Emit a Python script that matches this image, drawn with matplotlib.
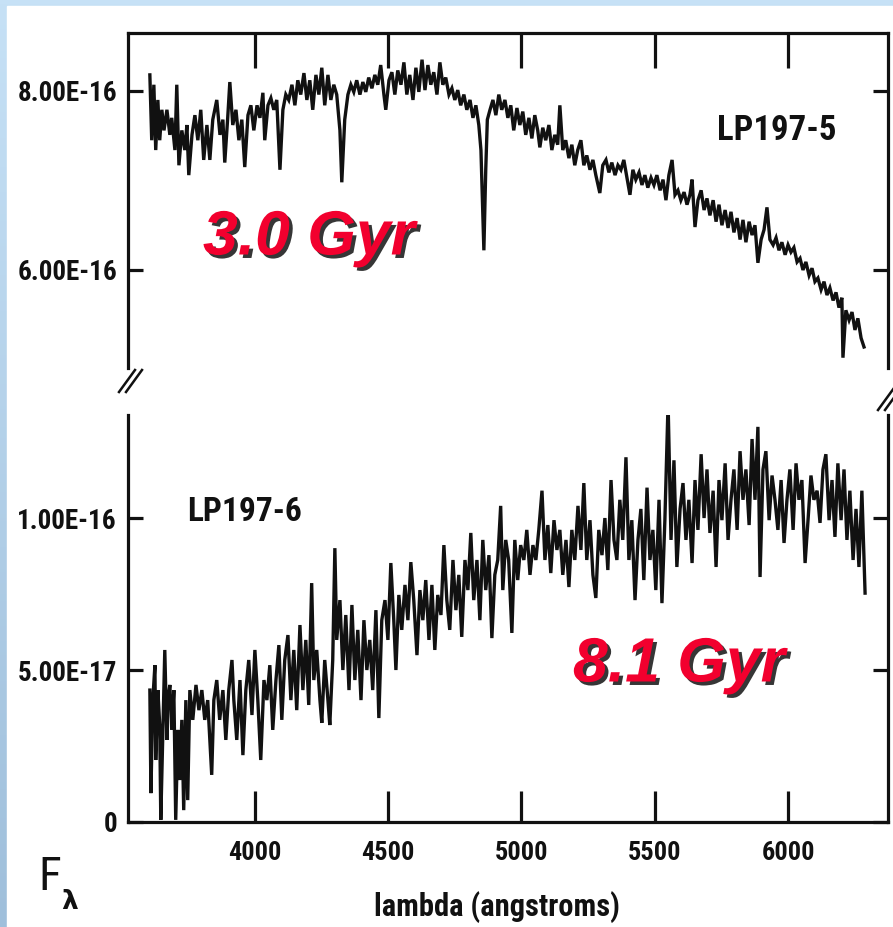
import numpy as np
import matplotlib
matplotlib.use("Agg")
import matplotlib.pyplot as plt
from matplotlib import font_manager as fm
from matplotlib.patches import Rectangle
from matplotlib.lines import Line2D
from matplotlib.colors import LinearSegmentedColormap
import matplotlib.patheffects as pe

# ---------------- data ----------------
# LP197-5 (upper panel), flux in units of 1e-16
wave_top = [3606, 3613, 3621, 3628, 3636, 3643, 3651, 3659, 3670, 3681, 3688, 3700, 3707, 3715,
            3726, 3737, 3745, 3752, 3764, 3775, 3786, 3797, 3808, 3820, 3831, 3842, 3857, 3869,
            3880, 3887, 3898, 3906, 3917, 3929, 3940, 3951, 3962, 3974, 3985, 3996, 4008, 4019,
            4030, 4037, 4049, 4060, 4071, 4082, 4094, 4105, 4116, 4127, 4139, 4150, 4161, 4172,
            4184, 4195, 4206, 4217, 4229, 4240, 4251, 4262, 4274, 4285, 4296, 4307, 4319, 4326,
            4337, 4349, 4360, 4371, 4382, 4394, 4405, 4416, 4427, 4439, 4450, 4461, 4472, 4484,
            4491, 4503, 4514, 4525, 4536, 4548, 4559, 4570, 4581, 4593, 4604, 4615, 4627, 4638,
            4649, 4660, 4671, 4683, 4694, 4705, 4716, 4728, 4739, 4750, 4761, 4772, 4784, 4795,
            4807, 4818, 4829, 4840, 4848, 4859, 4866, 4872, 4882, 4893, 4904, 4915, 4926, 4938,
            4949, 4960, 4971, 4983, 4994, 5005, 5016, 5028, 5039, 5050, 5061, 5069, 5080, 5091,
            5103, 5114, 5125, 5136, 5144, 5155, 5166, 5178, 5189, 5200, 5211, 5223, 5234, 5245,
            5257, 5268, 5279, 5294, 5305, 5317, 5328, 5339, 5351, 5362, 5373, 5384, 5396, 5407,
            5418, 5429, 5441, 5452, 5463, 5474, 5486, 5497, 5508, 5520, 5531, 5542, 5553, 5565,
            5576, 5587, 5598, 5610, 5621, 5632, 5640, 5651, 5662, 5674, 5685, 5696, 5707, 5719,
            5730, 5741, 5752, 5764, 5775, 5786, 5797, 5809, 5820, 5831, 5842, 5854, 5865, 5876,
            5887, 5899, 5910, 5921, 5932, 5944, 5955, 5966, 5977, 5989, 6000, 6011, 6022, 6034,
            6045, 6056, 6067, 6079, 6090, 6101, 6112, 6124, 6135, 6146, 6157, 6169, 6180, 6191,
            6202, 6206, 6217, 6229, 6240, 6251, 6262, 6274, 6285]
flux_top = [8.18, 7.45, 8.07, 7.34, 7.90, 7.45, 7.79, 7.56, 7.79, 7.51, 7.70, 7.34, 8.07, 7.17,
            7.56, 7.34, 7.62, 7.06, 7.51, 7.73, 7.45, 7.79, 7.23, 7.62, 7.23, 7.68, 7.90, 7.51,
            7.68, 7.20, 7.70, 8.10, 7.62, 7.79, 7.45, 7.68, 7.15, 7.73, 7.84, 7.56, 7.84, 7.70,
            7.98, 7.45, 7.84, 7.92, 7.79, 7.90, 7.12, 7.79, 7.96, 7.90, 8.07, 7.84, 8.12, 7.96,
            8.20, 7.90, 8.12, 7.79, 8.18, 7.96, 8.26, 7.84, 8.18, 7.90, 8.07, 7.96, 7.56, 6.98,
            7.68, 7.96, 8.07, 7.99, 8.12, 7.96, 8.10, 7.99, 8.15, 8.03, 8.18, 8.07, 8.29, 7.96,
            7.79, 8.12, 8.21, 7.96, 8.23, 8.07, 8.32, 7.96, 8.18, 7.90, 8.26, 7.99, 8.35, 8.01,
            8.29, 8.07, 8.21, 7.96, 8.32, 8.07, 8.15, 7.96, 8.03, 7.90, 8.01, 7.84, 7.96, 7.79,
            7.90, 7.70, 7.84, 7.62, 7.34, 6.22, 7.12, 7.68, 7.79, 7.90, 7.73, 7.96, 7.79, 7.90,
            7.70, 7.84, 7.56, 7.81, 7.62, 7.77, 7.51, 7.70, 7.47, 7.73, 7.56, 7.37, 7.59, 7.45,
            7.62, 7.34, 7.51, 7.40, 7.84, 7.34, 7.45, 7.25, 7.40, 7.17, 7.34, 7.45, 7.17, 7.28,
            7.12, 7.23, 7.06, 6.86, 7.17, 7.23, 7.09, 7.20, 7.06, 7.17, 7.12, 7.23, 7.03, 6.84,
            7.12, 7.01, 7.09, 6.95, 7.06, 6.92, 7.03, 6.95, 7.06, 6.89, 7.01, 6.78, 7.06, 7.23,
            6.84, 6.89, 6.78, 6.87, 6.73, 6.84, 7.01, 6.48, 6.78, 6.89, 6.67, 6.80, 6.61, 6.78,
            6.54, 6.73, 6.50, 6.67, 6.47, 6.65, 6.42, 6.58, 6.34, 6.56, 6.31, 6.54, 6.39, 6.50,
            6.08, 6.34, 6.45, 6.70, 6.34, 6.28, 6.36, 6.22, 6.31, 6.17, 6.28, 6.20, 6.25, 6.09,
            6.13, 6.00, 6.09, 5.94, 6.02, 5.87, 5.91, 5.78, 5.87, 5.72, 5.80, 5.66, 5.75, 5.58,
            5.69, 5.02, 5.55, 5.44, 5.53, 5.33, 5.46, 5.24, 5.14]

# LP197-6 (lower panel), flux in units of 1e-17
wave_bot = [3606, 3610, 3617, 3625, 3628, 3636, 3643, 3647, 3655, 3662, 3670, 3673, 3681, 3688,
            3696, 3703, 3711, 3718, 3726, 3733, 3741, 3748, 3756, 3767, 3779, 3790, 3801, 3812,
            3823, 3831, 3838, 3846, 3857, 3868, 3880, 3891, 3902, 3914, 3921, 3932, 3944, 3955,
            3966, 3977, 3989, 4000, 4011, 4022, 4034, 4045, 4056, 4067, 4079, 4090, 4101, 4112,
            4124, 4135, 4146, 4157, 4169, 4180, 4191, 4202, 4213, 4221, 4232, 4244, 4251, 4262,
            4274, 4281, 4292, 4300, 4307, 4319, 4330, 4341, 4353, 4364, 4375, 4386, 4398, 4409,
            4420, 4431, 4442, 4454, 4465, 4476, 4488, 4499, 4510, 4521, 4529, 4540, 4551, 4563,
            4574, 4585, 4596, 4608, 4619, 4630, 4641, 4653, 4664, 4675, 4686, 4698, 4709, 4720,
            4731, 4743, 4754, 4765, 4776, 4788, 4799, 4810, 4821, 4833, 4844, 4855, 4866, 4878,
            4889, 4900, 4911, 4922, 4930, 4941, 4952, 4964, 4975, 4986, 4997, 5009, 5020, 5032,
            5043, 5054, 5065, 5077, 5088, 5099, 5110, 5122, 5133, 5144, 5155, 5167, 5178, 5189,
            5200, 5212, 5223, 5234, 5245, 5257, 5268, 5279, 5290, 5302, 5313, 5324, 5336, 5347,
            5358, 5369, 5380, 5392, 5403, 5414, 5426, 5437, 5448, 5459, 5471, 5482, 5493, 5504,
            5516, 5527, 5538, 5550, 5561, 5572, 5583, 5595, 5606, 5617, 5628, 5640, 5651, 5662,
            5674, 5685, 5696, 5707, 5719, 5730, 5741, 5752, 5764, 5775, 5786, 5797, 5809, 5820,
            5831, 5842, 5854, 5865, 5876, 5887, 5895, 5906, 5917, 5929, 5940, 5951, 5962, 5974,
            5985, 5996, 6007, 6019, 6030, 6041, 6052, 6064, 6075, 6086, 6097, 6109, 6120, 6131,
            6142, 6154, 6165, 6176, 6187, 6199, 6210, 6221, 6232, 6244, 6255, 6266, 6277, 6289]
flux_bot = [4.34, 0.95, 4.01, 5.16, 2.04, 4.34, 3.19, 0.07, 3.03, 5.66, 2.70, 4.01, 4.51, 3.03,
            4.34, 0.07, 3.03, 1.38, 3.36, 0.39, 4.01, 0.72, 4.34, 3.36, 4.51, 3.68, 4.34, 3.36,
            4.01, 2.70, 1.55, 4.01, 4.67, 3.36, 4.34, 2.70, 4.34, 5.33, 4.01, 2.70, 4.67, 2.20,
            4.34, 5.33, 3.52, 5.66, 4.01, 2.04, 4.67, 4.01, 5.16, 3.03, 4.67, 5.82, 3.36, 5.33,
            6.15, 4.01, 5.66, 3.68, 6.48, 4.34, 5.99, 3.85, 7.86, 4.67, 5.66, 4.01, 3.26, 5.33,
            4.01, 3.19, 5.33, 9.01, 5.99, 7.30, 5.00, 6.81, 4.34, 7.14, 4.67, 6.32, 4.01, 6.64,
            5.00, 5.99, 4.34, 6.97, 3.42, 6.64, 7.30, 5.99, 8.52, 6.64, 5.00, 7.47, 6.32, 7.80,
            6.64, 8.55, 7.30, 5.49, 7.63, 6.64, 7.96, 5.99, 7.80, 5.66, 7.47, 6.81, 9.11, 7.30,
            6.32, 8.62, 6.97, 8.13, 6.09, 8.62, 7.63, 9.51, 7.30, 8.62, 6.64, 9.28, 7.63, 8.78,
            6.05, 8.13, 8.62, 10.4, 7.63, 9.28, 8.62, 6.22, 9.28, 7.96, 9.11, 8.62, 9.61, 8.13,
            9.11, 8.62, 9.61, 10.9, 8.62, 9.77, 8.19, 9.93, 8.95, 9.61, 8.13, 9.28, 7.73, 9.61,
            8.62, 10.4, 8.95, 11.15, 8.62, 9.93, 8.13, 7.37, 9.61, 8.78, 10.0, 8.29, 11.25, 9.28,
            8.62, 10.6, 9.28, 12.0, 8.62, 9.93, 7.30, 9.28, 10.3, 7.96, 11.0, 8.62, 9.61, 7.63,
            10.6, 7.20, 9.93, 13.8, 9.28, 11.9, 8.39, 10.3, 11.15, 9.28, 10.6, 8.52, 11.25, 9.61,
            12.1, 10.0, 11.6, 9.51, 10.9, 8.39, 11.25, 9.93, 11.8, 9.28, 10.6, 11.6, 9.61, 12.2,
            10.6, 11.6, 9.77, 12.6, 10.6, 13.0, 8.06, 11.6, 12.2, 9.93, 11.4, 10.6, 9.61, 11.25,
            9.18, 10.6, 11.6, 9.61, 11.8, 10.6, 11.25, 8.52, 9.93, 11.4, 10.6, 10.9, 9.84, 11.6,
            12.1, 9.93, 11.25, 9.38, 11.8, 9.93, 11.6, 9.28, 10.9, 8.62, 10.3, 8.39, 10.9, 7.53]

xticks = [4000, 4500, 5000, 5500, 6000]
yticks_top = [6.0e-16, 8.0e-16]
ylabels_top = ["6.00E-16", "8.00E-16"]
yticks_bot = [0.0, 5.0e-17, 1.0e-16]
ylabels_bot = ["0", "5.00E-17", "1.00E-16"]
name_top = "LP197-5"
name_bot = "LP197-6"
age_top = "3.0 Gyr"
age_bot = "8.1 Gyr"
xlabel = "lambda (angstroms)"

# ---------------- fonts ----------------
def pick(names):
    for n in names:
        try:
            fm.findfont(fm.FontProperties(family=n), fallback_to_default=False)
            return n
        except Exception:
            pass
    return "DejaVu Sans"

plot_font = pick(["Liberation Sans Narrow", "DejaVu Sans Condensed", "Roboto Condensed", "DejaVu Sans"])
red_font = pick(["Liberation Sans", "Arial", "DejaVu Sans"])

W, H = 893, 927
fig = plt.figure(figsize=(W / 100, H / 100), dpi=100)

# background: light-blue slide border with white page
bg = fig.add_axes([0, 0, 1, 1], zorder=-10)
grad = np.linspace(0, 1, 256).reshape(-1, 1)
cm = LinearSegmentedColormap.from_list("b", ["#c6e1f6", "#9fbfdb"])
bg.imshow(grad, aspect="auto", cmap=cm, extent=[0, 1, 0, 1], origin="upper")
bg.add_patch(Rectangle((7 / W, 0), 1, 1 - 6 / H, color="white", transform=bg.transAxes))
bg.set_xlim(0, 1); bg.set_ylim(0, 1)
bg.axis("off")

ink = "#111111"
lw_sp = 2.3

def fx(px):
    return px / W

def fy(py):
    return 1 - py / H

ax1 = fig.add_axes([fx(128), fy(368), fx(888) - fx(128), fy(33) - fy(368)])
ax2 = fig.add_axes([fx(128), fy(822), fx(888) - fx(128), fy(415) - fy(822)])
for a in (ax1, ax2):
    a.set_facecolor("none")
    a.set_xlim(3524, 6375)
    for s in a.spines.values():
        s.set_linewidth(lw_sp)
        s.set_color(ink)

ax1.plot(wave_top, np.array(flux_top) * 1e-16, color=ink, lw=2.4, solid_joinstyle="miter")
ax2.plot(wave_bot, np.array(flux_bot) * 1e-17, color=ink, lw=2.4, solid_joinstyle="miter")

ax1.set_ylim(4.905e-16, 8.648e-16)
ax2.set_ylim(0, 1.339e-16)

yfont = dict(family=plot_font, fontsize=19.5, fontweight="bold", color=ink)
xfont = dict(family=plot_font, fontsize=19, fontweight="bold", color=ink)

# top panel
ax1.spines["bottom"].set_visible(False)
ax1.set_xticks(xticks)
ax1.tick_params(axis="x", which="both", bottom=False, top=True, labelbottom=False,
                direction="in", length=25, width=2.3, color=ink)
ax1.set_yticks(yticks_top)
ax1.set_yticklabels(ylabels_top, **yfont)
ax1.tick_params(axis="y", left=True, right=True, direction="in", length=11, width=2.3,
                pad=8, color=ink)

# bottom panel
ax2.spines["top"].set_visible(False)
ax2.set_xticks(xticks)
ax2.set_xticklabels([str(v) for v in xticks], **xfont)
ax2.tick_params(axis="x", bottom=True, top=False, direction="in", length=22, width=2.3,
                pad=14, color=ink)
ax2.set_yticks(yticks_bot)
ax2.set_yticklabels(ylabels_bot, **yfont)
ax2.tick_params(axis="y", left=True, right=True, direction="in", length=11, width=2.3,
                pad=8, color=ink)

# axis-break marks
for (x0, y0) in [(119, 392), (126, 392), (878, 410), (885, 410)]:
    fig.add_artist(Line2D([fx(x0), fx(x0 + 16)], [fy(y0), fy(y0 - 22)], color=ink, lw=1.8))

# object names
fig.text(fx(717), fy(131), name_top, ha="left", va="center", fontsize=25, fontweight="bold",
         family=plot_font, color=ink)
fig.text(fx(187), fy(512), name_bot, ha="left", va="center", fontsize=24, fontweight="bold",
         family=plot_font, color=ink)

# axis labels
fig.text(fx(497), fy(907), xlabel, ha="center", va="center", fontsize=22, fontweight="bold",
         family=plot_font, color=ink)
fig.text(fx(38), fy(877), "F", ha="left", va="center", fontsize=34, family=plot_font, color=ink)
fig.text(fx(61), fy(902), "\u03bb", ha="left", va="center", fontsize=19, fontweight="bold",
         family="DejaVu Sans", color=ink)

# red age labels with shadow
red = "#f2002e"
shadow = [pe.withSimplePatchShadow(offset=(2.5, -2.5), shadow_rgbFace="#202020", alpha=0.9)]
fig.text(fx(203), fy(238), age_top, ha="left", va="center", fontsize=45, fontweight="bold",
         fontstyle="italic", family=red_font, color=red, path_effects=shadow)
fig.text(fx(573), fy(665), age_bot, ha="left", va="center", fontsize=45, fontweight="bold",
         fontstyle="italic", family=red_font, color=red, path_effects=shadow)

fig.savefig("out.png", dpi=100)
